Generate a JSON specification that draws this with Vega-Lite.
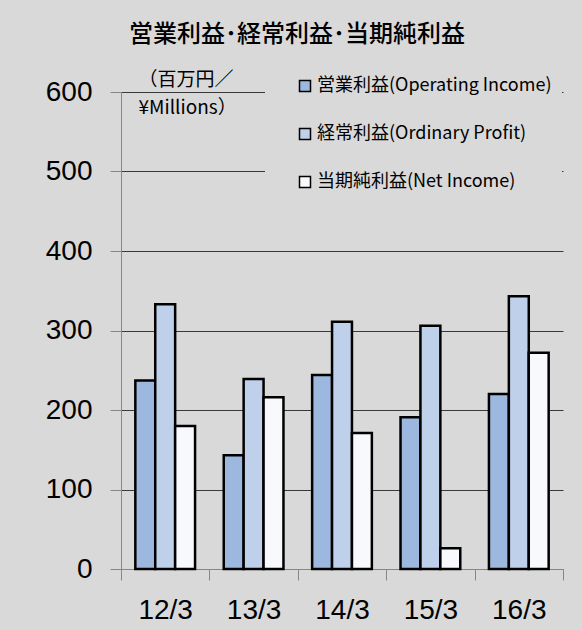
{
  "$schema": "https://vega.github.io/schema/vega-lite/v6.json",
  "width": 442,
  "height": 477,
  "autosize": {"type": "none"},
  "padding": {"left": 121, "top": 92, "right": 19, "bottom": 61},
  "background": "#d9d9d9",
  "title": {
    "text": "営業利益･経常利益･当期純利益",
    "font": "Noto Sans CJK JP",
    "fontSize": 24,
    "fontWeight": 500,
    "color": "#000000",
    "anchor": "middle",
    "dx": -45,
    "offset": 20
  },
  "data": {
    "values": [
      {"year": "12/3", "series": "営業利益(Operating Income)", "value": 237},
      {"year": "12/3", "series": "経常利益(Ordinary Profit)", "value": 333},
      {"year": "12/3", "series": "当期純利益(Net Income)", "value": 180},
      {"year": "13/3", "series": "営業利益(Operating Income)", "value": 143},
      {"year": "13/3", "series": "経常利益(Ordinary Profit)", "value": 239},
      {"year": "13/3", "series": "当期純利益(Net Income)", "value": 216},
      {"year": "14/3", "series": "営業利益(Operating Income)", "value": 244},
      {"year": "14/3", "series": "経常利益(Ordinary Profit)", "value": 311},
      {"year": "14/3", "series": "当期純利益(Net Income)", "value": 171},
      {"year": "15/3", "series": "営業利益(Operating Income)", "value": 191},
      {"year": "15/3", "series": "経常利益(Ordinary Profit)", "value": 306},
      {"year": "15/3", "series": "当期純利益(Net Income)", "value": 26},
      {"year": "16/3", "series": "営業利益(Operating Income)", "value": 220},
      {"year": "16/3", "series": "経常利益(Ordinary Profit)", "value": 343},
      {"year": "16/3", "series": "当期純利益(Net Income)", "value": 272}
    ]
  },
  "mark": {"type": "bar", "stroke": "#000000", "strokeWidth": 2.5},
  "encoding": {
    "x": {
      "field": "year",
      "type": "nominal",
      "sort": null,
      "scale": {"paddingInner": 0, "paddingOuter": 0},
      "axis": {
        "title": null,
        "labelAngle": 0,
        "tickBand": "extent",
        "labelFont": "Liberation Sans",
        "labelFontSize": 28,
        "labelColor": "#000000",
        "labelPadding": 16,
        "labelBaseline": "top",
        "tickSize": 11,
        "tickColor": "#868686",
        "domainColor": "#868686",
        "grid": false
      }
    },
    "xOffset": {
      "field": "series",
      "type": "nominal",
      "scale": {
        "domain": ["営業利益(Operating Income)", "経常利益(Ordinary Profit)", "当期純利益(Net Income)"],
        "paddingInner": 0,
        "paddingOuter": 0.72
      }
    },
    "y": {
      "field": "value",
      "type": "quantitative",
      "scale": {"domain": [0, 600]},
      "axis": {
        "title": ["（百万円／", "¥Millions）"],
        "titleAngle": 0,
        "titleAlign": "left",
        "titleBaseline": "top",
        "titleX": 17,
        "titleY": -22,
        "titleFont": "Noto Sans CJK JP",
        "titleFontSize": 19,
        "titleFontWeight": "normal",
        "titleLineHeight": 28,
        "titleColor": "#000000",
        "values": [0, 100, 200, 300, 400, 500, 600],
        "labelFont": "Liberation Sans",
        "labelFontSize": 28,
        "labelColor": "#000000",
        "labelPadding": 18,
        "tickSize": 11,
        "tickColor": "#868686",
        "domainColor": "#868686",
        "grid": true,
        "gridColor": "#3a3a3a",
        "gridWidth": 1
      }
    },
    "fill": {
      "field": "series",
      "type": "nominal",
      "scale": {
        "domain": ["営業利益(Operating Income)", "経常利益(Ordinary Profit)", "当期純利益(Net Income)"],
        "range": ["#9db8de", "#bfd1ea", "#f7f9fc"]
      },
      "legend": {
        "orient": "none",
        "legendX": 144,
        "legendY": -25,
        "title": null,
        "fillColor": "#d9d9d9",
        "padding": 10,
        "symbolOffset": 21,
        "labelFont": "Noto Sans CJK JP",
        "labelFontSize": 18,
        "labelColor": "#000000",
        "labelLimit": 400,
        "labelOffset": 3,
        "symbolType": "square",
        "symbolSize": 121,
        "symbolStrokeColor": "#000000",
        "symbolStrokeWidth": 1.5,
        "rowPadding": 30
      }
    }
  },
  "config": {"view": {"stroke": null}}
}
